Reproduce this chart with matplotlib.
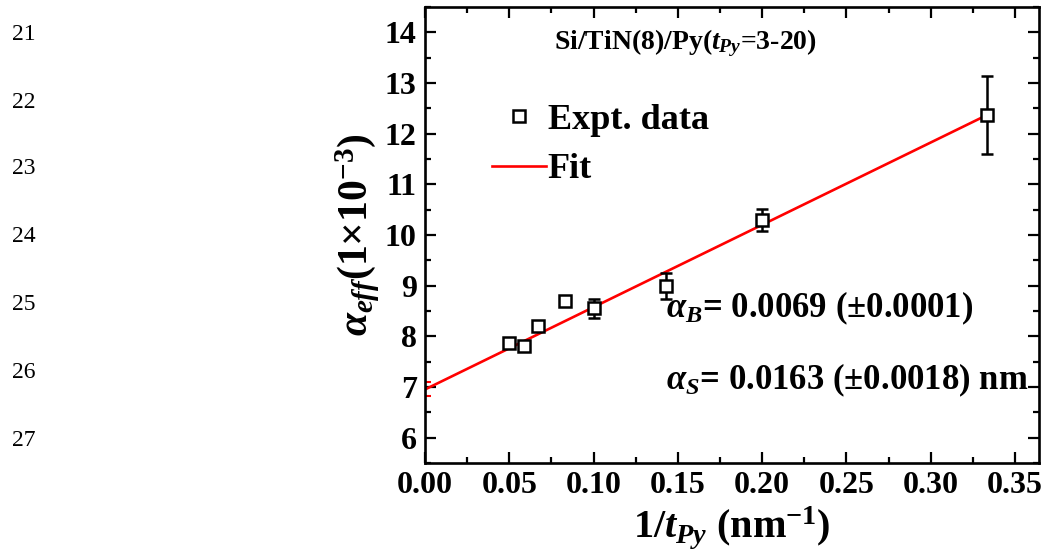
import numpy as np
import matplotlib
matplotlib.use('Agg')
import matplotlib.pyplot as plt
from matplotlib.lines import Line2D

plt.rcParams['font.family'] = ['Liberation Serif', 'DejaVu Serif']
plt.rcParams['font.weight'] = 'bold'
plt.rcParams['axes.labelweight'] = 'bold'
plt.rcParams['mathtext.fontset'] = 'custom'
plt.rcParams['mathtext.rm'] = 'Liberation Serif:bold'
plt.rcParams['mathtext.it'] = 'Liberation Serif:italic:bold'
plt.rcParams['mathtext.bf'] = 'Liberation Serif:bold'

# data
inv_t = [0.05, 0.0588, 0.0667, 0.0833, 0.1, 0.1429, 0.2, 0.3333]
alpha_eff = [7.86, 7.81, 8.20, 8.69, 8.55, 8.99, 10.29, 12.36]
alpha_err = [0.05, 0.07, 0.05, 0.08, 0.19, 0.26, 0.22, 0.77]

fit_intercept = 6.95
fit_slope = 16.25
fit_x = [0.0, 0.3333]
intercept_err = 0.14

line_numbers = ['21', '22', '23', '24', '25', '26', '27']
line_num_y = [34, 102, 169, 237, 305, 373, 441]

fig = plt.figure(figsize=(10.47, 5.59), dpi=100)
ax = fig.add_axes([0.406, 0.172, 0.586, 0.8155])

fx = np.array(fit_x)
ax.plot(fx, fit_intercept + fit_slope * fx, color='#ff0000', lw=1.9, zorder=2)
ax.errorbar([0.0], [fit_intercept], yerr=intercept_err, color='#ff0000',
            capsize=4, elinewidth=1.5, capthick=1.5, fmt='none', zorder=2)

ax.errorbar(inv_t, alpha_eff, yerr=alpha_err, fmt='s', mfc='white', mec='black',
            mew=1.8, ms=9, ecolor='black', elinewidth=1.8, capsize=4.3,
            capthick=1.8, zorder=3)

ax.set_xlim(0, 0.364)
ax.set_ylim(5.5, 14.5)
ax.set_xticks(np.arange(0, 0.351, 0.05))
ax.set_xticks(np.arange(0, 0.36, 0.025), minor=True)
ax.set_yticks(np.arange(6, 14.1, 1))
ax.set_yticks(np.arange(5.5, 14.6, 0.5), minor=True)
ax.xaxis.set_major_formatter(matplotlib.ticker.FormatStrFormatter('%.2f'))

ax.tick_params(which='both', direction='in', top=True, right=True, width=1.6,
               labelsize=23, pad=6)
ax.tick_params(which='major', length=8)
ax.tick_params(which='minor', length=4.5)
for sp in ax.spines.values():
    sp.set_linewidth(1.9)

ax.set_xlabel(r'$1/t_{Py}$ (nm$^{\mathbf{-1}}$)', fontsize=29, labelpad=3)
ax.set_ylabel(r'$\alpha_{eff}$(1×10$^{\mathbf{-3}}$)', fontsize=30, labelpad=2)

ax.text(0.425, 0.955, r'Si/TiN(8)/Py($t_{Py}$=3-20)', transform=ax.transAxes,
        ha='center', va='top', fontsize=20)
ax.text(0.392, 0.34, r'$\alpha_B$= 0.0069 (±0.0001)', transform=ax.transAxes,
        ha='left', va='center', fontsize=25)
ax.text(0.392, 0.18, r'$\alpha_S$= 0.0163 (±0.0018) nm', transform=ax.transAxes,
        ha='left', va='center', fontsize=25)

handles = [Line2D([], [], ls='none', marker='s', mfc='white', mec='black', mew=1.8, ms=8),
           Line2D([], [], color='#ff0000', lw=1.9)]
ax.legend(handles, ['Expt. data', 'Fit'], loc='upper left', bbox_to_anchor=(0.085, 0.82),
          frameon=False, fontsize=26, handlelength=1.5, handletextpad=0.05,
          labelspacing=0.45, borderaxespad=0)

for lab, yy in zip(line_numbers, line_num_y):
    fig.text(12 / 1047, 1 - yy / 559, lab, ha='left', va='center', fontsize=17,
             fontweight='normal')

fig.savefig('out.png', dpi=100)
